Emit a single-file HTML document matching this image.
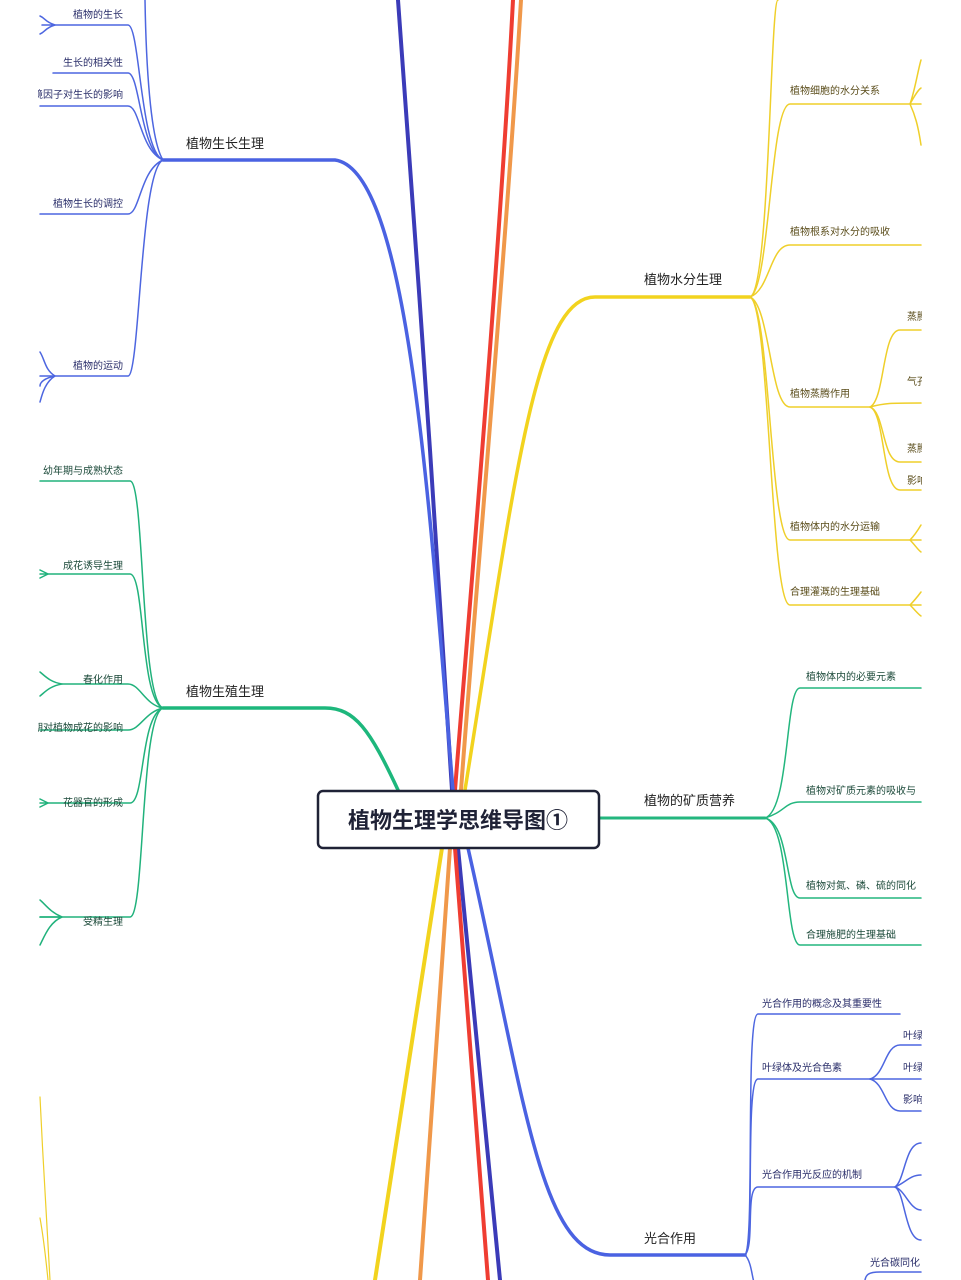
<!DOCTYPE html>
<html><head><meta charset="utf-8"><style>
html,body{margin:0;padding:0;background:#fff;}
svg{display:block;}
text{font-family:"Liberation Sans","Noto Sans CJK SC",sans-serif;}
.s{font-size:10px;}
.m{font-size:13px;fill:#222;}
</style></head><body>
<svg width="961" height="1280" viewBox="0 0 961 1280" xmlns="http://www.w3.org/2000/svg">
<g fill="none" stroke-linecap="round">
<path d="M398 0 C405 100 420 300 430 450 C440 620 448 720 452 790" stroke="#3b3bb8" stroke-width="4"/>
<path d="M458 848 L500 1280" stroke="#3b3bb8" stroke-width="4"/>
<path d="M513 0 C500 250 470 600 455 790" stroke="#ef3d32" stroke-width="4"/>
<path d="M455 848 L488 1280" stroke="#ef3d32" stroke-width="4"/>
<path d="M521 0 C506 250 475 600 461 790" stroke="#f0984a" stroke-width="4"/>
<path d="M450 848 L420 1280" stroke="#f0984a" stroke-width="4"/>
<path d="M442 848 L375 1280" stroke="#f2d31e" stroke-width="4"/>
<path d="M453 790 C430 520 410 170 335 160 L163 160" stroke="#4a62e2" stroke-width="3.5"/>
<path d="M398 790 C370 730 355 708 325 708 L163 708" stroke="#1db77c" stroke-width="3.5"/>
<path d="M465 790 C515 480 535 297 595 297 L750 297" stroke="#f2d31e" stroke-width="3.5"/>
<path d="M599 818 L765 818" stroke="#23b67e" stroke-width="3"/>
<path d="M468 848 C525 1100 540 1255 610 1255 L745 1255" stroke="#4a62e2" stroke-width="3.5"/>

<g stroke="#4d66e0" stroke-width="1.5">
<path d="M163 160 C140 150 140 25 128 25 L42 25"/>
<path d="M163 160 C140 150 140 73 128 73 L53 73"/>
<path d="M163 160 C140 150 140 106 128 106 L40 106"/>
<path d="M163 160 C140 170 140 214 128 214 L40 214"/>
<path d="M163 160 C140 170 140 376 128 376 L40 376"/>
<path d="M145 0 C146 60 150 140 163 160"/>
<path d="M55 25 C45 22 45 18 40 16 M55 25 C45 28 45 32 40 34"/>
<path d="M55 376 C45 370 45 360 40 352 M55 376 C45 378 40 382 40 386 M55 376 C45 382 42 395 40 402"/>
</g>
<g stroke="#21b27c" stroke-width="1.5">
<path d="M163 708 C140 700 145 481 130 481 L40 481"/>
<path d="M163 708 C140 700 145 574 130 574 L40 574"/>
<path d="M163 708 C145 705 140 684 128 684 L62 684"/>
<path d="M163 708 C145 712 140 730 128 730 L40 730"/>
<path d="M163 708 C140 716 145 803 130 803 L40 803"/>
<path d="M163 708 C140 716 145 917 130 917 L40 917"/>
<path d="M62 684 C50 682 45 676 40 672 M62 684 C50 686 45 692 40 696"/>
<path d="M62 917 C50 912 45 904 40 900 M62 917 C50 922 45 935 40 945 M62 917 L40 917"/>
<path d="M40 570 L48 574 L40 578 M40 799 L48 803 L40 807"/>
</g>
<g stroke="#efcf2a" stroke-width="1.5">
<path d="M750 297 C770 290 770 0 778 0"/>
<path d="M750 297 C770 290 770 104 790 104 L910 104"/>
<path d="M750 297 C770 290 770 245 790 245 L921 245"/>
<path d="M750 297 C770 305 770 407 790 407 L870 407"/>
<path d="M750 297 C770 305 770 540 790 540 L921 540"/>
<path d="M750 297 C770 305 770 605 790 605 L921 605"/>
<path d="M910 104 C915 90 918 70 921 60 M910 104 C915 95 918 90 921 88 M910 104 L921 104 M910 104 C915 115 918 125 921 145"/>
<path d="M870 407 C885 400 882 330 900 330 L921 330"/>
<path d="M870 407 C885 403 890 403 921 403"/>
<path d="M870 407 C885 412 882 462 900 462 L921 462"/>
<path d="M870 407 C885 412 882 490 900 490 L921 490"/>
<path d="M910 540 C915 535 918 530 921 525 M910 540 C915 545 918 550 921 552 M910 605 C915 600 918 596 921 592 M910 605 C915 610 918 614 921 616"/>
</g>
<g stroke="#23b67e" stroke-width="1.5">
<path d="M765 818 C790 810 785 688 800 688 L921 688"/>
<path d="M765 818 C785 812 785 802 800 802 L921 802"/>
<path d="M765 818 C790 824 785 898 800 898 L921 898"/>
<path d="M765 818 C790 824 785 945 800 945 L921 945"/>
</g>
<g stroke="#4d66e0" stroke-width="1.5">
<path d="M745 1255 C755 1245 745 1014 758 1014 L900 1014"/>
<path d="M745 1255 C755 1245 745 1079 758 1079 L870 1079"/>
<path d="M745 1255 C755 1245 745 1187 758 1187 L895 1187"/>
<path d="M745 1255 C752 1262 752 1280 755 1285"/>
<path d="M870 1079 C885 1075 885 1045 900 1045 L921 1045"/>
<path d="M870 1079 L921 1079"/>
<path d="M870 1079 C885 1083 885 1111 900 1111 L921 1111"/>
<path d="M895 1187 C905 1180 905 1143 921 1143"/>
<path d="M895 1187 C905 1183 910 1175 921 1175"/>
<path d="M895 1187 C905 1190 910 1210 921 1210"/>
<path d="M895 1187 C905 1192 905 1240 921 1240"/>
<path d="M865 1280 C866 1275 868 1272 880 1272 L921 1272"/>
</g>
<path d="M40 1097 C43 1160 47 1230 50 1280" stroke="#efcf2a" stroke-width="1.2"/>
<path d="M40 1218 C44 1240 46 1260 48 1280" stroke="#efcf2a" stroke-width="1.2"/>
</g>

<rect x="318" y="791" width="281" height="57" rx="5" fill="#fff" stroke="#1f2236" stroke-width="2.5"/>
<text x="458" y="828" text-anchor="middle" font-size="22" font-weight="bold" fill="#1f2236">植物生理学思维导图①</text>

<text class="m" x="186" y="148">植物生长生理</text>
<text class="m" x="186" y="696">植物生殖生理</text>
<text class="m" x="644" y="284">植物水分生理</text>
<text class="m" x="644" y="805">植物的矿质营养</text>
<text class="m" x="644" y="1243">光合作用</text>

<g class="s" fill="#2a2e6a" text-anchor="end">
<text x="123" y="18">植物的生长</text>
<text x="123" y="66">生长的相关性</text>
<text x="123" y="98">环境因子对生长的影响</text>
<text x="123" y="207">植物生长的调控</text>
<text x="123" y="369">植物的运动</text>
</g>
<g class="s" fill="#1c4a3a" text-anchor="end">
<text x="123" y="474">幼年期与成熟状态</text>
<text x="123" y="569">成花诱导生理</text>
<text x="123" y="683">春化作用</text>
<text x="123" y="731">光周期对植物成花的影响</text>
<text x="123" y="806">花器官的形成</text>
<text x="123" y="925">受精生理</text>
</g>
<g class="s" fill="#5a4c1a">
<text x="790" y="94">植物细胞的水分关系</text>
<text x="790" y="235">植物根系对水分的吸收</text>
<text x="790" y="397">植物蒸腾作用</text>
<text x="790" y="530">植物体内的水分运输</text>
<text x="790" y="595">合理灌溉的生理基础</text>
<text x="907" y="320">蒸腾</text>
<text x="907" y="385">气孔</text>
<text x="907" y="452">蒸腾</text>
<text x="907" y="484">影响</text>
</g>
<g class="s" fill="#1c4a3a">
<text x="806" y="680">植物体内的必要元素</text>
<text x="806" y="794">植物对矿质元素的吸收与</text>
<text x="806" y="889">植物对氮、磷、硫的同化</text>
<text x="806" y="938">合理施肥的生理基础</text>
</g>
<g class="s" fill="#2a2e6a">
<text x="762" y="1007">光合作用的概念及其重要性</text>
<text x="762" y="1071">叶绿体及光合色素</text>
<text x="762" y="1178">光合作用光反应的机制</text>
<text x="903" y="1039">叶绿</text>
<text x="903" y="1071">叶绿</text>
<text x="903" y="1103">影响</text>
<text x="870" y="1266">光合碳同化</text>
</g>
<rect x="922" y="0" width="39" height="1280" fill="#fff"/>
<rect x="0" y="0" width="38" height="1000" fill="#fff"/>
</svg>
</body></html>
